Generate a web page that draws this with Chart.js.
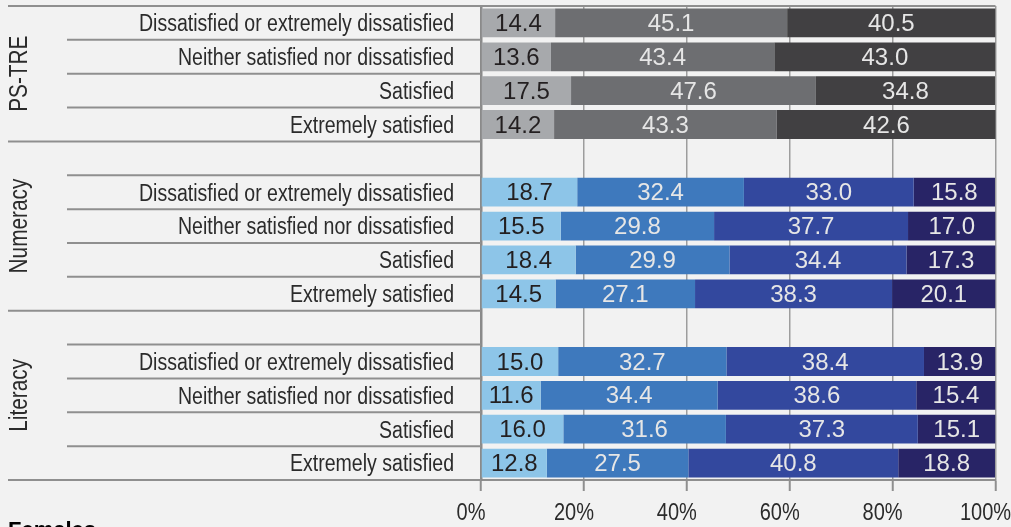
<!DOCTYPE html>
<html>
<head>
<meta charset="utf-8">
<script src="https://cdn.jsdelivr.net/npm/chart.js@4/dist/chart.umd.min.js"></script>
<style>
  html, body { margin: 0; padding: 0; background: #f2f2f2; overflow: hidden; }
  #wrap { position: relative; width: 1011px; height: 527px; }
</style>
</head>
<body>
<div id="wrap"><canvas id="chart"></canvas></div>
<script>
// ---------- DATA ----------
const groups    = ["PS-TRE", "Numeracy", "Literacy"];
const rowLabels = [
  "Dissatisfied or extremely dissatisfied",
  "Neither satisfied nor dissatisfied",
  "Satisfied",
  "Extremely satisfied"
];
const xTicks = [0, 20, 40, 60, 80, 100];

// PS-TRE: three levels
const psLevel1 = [14.4, 13.6, 17.5, 14.2];
const psLevel2 = [45.1, 43.4, 47.6, 43.3];
const psLevel3 = [40.5, 43.0, 34.8, 42.6];

// Numeracy: four levels
const numLevel1 = [18.7, 15.5, 18.4, 14.5];
const numLevel2 = [32.4, 29.8, 29.9, 27.1];
const numLevel3 = [33.0, 37.7, 34.4, 38.3];
const numLevel4 = [15.8, 17.0, 17.3, 20.1];

// Literacy: four levels
const litLevel1 = [15.0, 11.6, 16.0, 12.8];
const litLevel2 = [32.7, 34.4, 31.6, 27.5];
const litLevel3 = [38.4, 38.6, 37.3, 40.8];
const litLevel4 = [13.9, 15.4, 15.1, 18.8];

// ---------- BUILD ROWS ----------
// one blank row in front of every group except the first
const categories = [...rowLabels, "", ...rowLabels, "", ...rowLabels];
const none = [null, null, null, null];
const psRow  = (a) => [...a, null, ...none, null, ...none];
const sktRow = (num, lit) => [...none, null, ...num, null, ...lit];

const FONT = "'Liberation Sans Narrow', 'Liberation Sans', sans-serif";
const TXT       = "#2b2b2b";
const DARK_TXT  = "#231f20";
const LIGHT_TXT = "#e6e6e6";

const datasets = [
  { data: psRow(psLevel1), backgroundColor: "#a7a9ac", txt: DARK_TXT },
  { data: psRow(psLevel2), backgroundColor: "#6d6e71", txt: LIGHT_TXT },
  { data: psRow(psLevel3), backgroundColor: "#414042", txt: LIGHT_TXT },
  { data: sktRow(numLevel1, litLevel1), backgroundColor: "#8dc5e8", txt: DARK_TXT },
  { data: sktRow(numLevel2, litLevel2), backgroundColor: "#3e79bd", txt: LIGHT_TXT },
  { data: sktRow(numLevel3, litLevel3), backgroundColor: "#33489e", txt: LIGHT_TXT },
  { data: sktRow(numLevel4, litLevel4), backgroundColor: "#282466", txt: LIGHT_TXT }
].map(d => ({ ...d, barPercentage: 0.85, categoryPercentage: 1, borderWidth: 0 }));

// condensed text: squeeze horizontally around the anchor point
function condensedText(ctx, text, x, y, sx) {
  ctx.save();
  ctx.translate(x, y);
  ctx.scale(sx, 1);
  ctx.fillText(text, 0, 0);
  ctx.restore();
}

// ---------- PLUGINS ----------
// value labels centred in each segment
const segmentLabels = {
  id: "segmentLabels",
  afterDatasetsDraw(chart) {
    const ctx = chart.ctx;
    ctx.save();
    ctx.font = "24px " + FONT;
    ctx.textAlign = "center";
    ctx.textBaseline = "middle";
    chart.data.datasets.forEach((ds, di) => {
      chart.getDatasetMeta(di).data.forEach((bar, i) => {
        const v = ds.data[i];
        if (v == null) return;
        ctx.fillStyle = ds.txt;
        ctx.fillText(v.toFixed(1), (bar.x + bar.base) / 2, bar.y + 1.5);
      });
    });
    ctx.restore();
  }
};

// axis labels, row/group separators, group titles, plot top border, footer
const frame = {
  id: "frame",
  afterDraw(chart) {
    const ctx = chart.ctx;
    const x = chart.scales.x;
    const y = chart.scales.y;
    const area = chart.chartArea;
    const half = (y.getPixelForValue(1) - y.getPixelForValue(0)) / 2;
    ctx.save();
    ctx.strokeStyle = "#8f8f8f";
    ctx.lineWidth = 2;

    // top border of the plot
    ctx.beginPath();
    ctx.moveTo(area.left, area.top);
    ctx.lineTo(area.right, area.top);
    ctx.stroke();

    const groupStarts = [0, 4, 9];
    const groupEnds   = [4, 9, 14];
    for (let i = 0; i <= categories.length; i++) {
      const py = y.getPixelForValue(i) - half;
      const isGroupEdge = i === 0 || groupEnds.includes(i);
      ctx.beginPath();
      ctx.moveTo(isGroupEdge ? 8 : 67, py);
      ctx.lineTo(area.left, py);
      ctx.stroke();
    }

    ctx.fillStyle = TXT;
    ctx.textBaseline = "middle";

    // row labels
    ctx.font = "23px " + FONT;
    ctx.textAlign = "right";
    categories.forEach((c, i) => {
      if (c) condensedText(ctx, c, area.left - 27, y.getPixelForValue(i) + 2, 0.85);
    });

    // x tick labels
    ctx.textAlign = "center";
    xTicks.forEach(v => condensedText(ctx, v + "%", x.getPixelForValue(v) - 10, 514, 0.87));

    // rotated group titles
    ctx.font = "26px " + FONT;
    groups.forEach((g, gi) => {
      const top = y.getPixelForValue(groupStarts[gi]) - half;
      const bot = y.getPixelForValue(groupEnds[gi] - 1) + half;
      ctx.save();
      ctx.translate(20, (top + bot) / 2);
      ctx.rotate(-Math.PI / 2);
      condensedText(ctx, g, 0, 0, 0.8);
      ctx.restore();
    });

    ctx.font = "bold 22px 'Liberation Sans', sans-serif";
    ctx.fillStyle = "#000";
    ctx.textAlign = "left";
    ctx.textBaseline = "alphabetic";
    ctx.fillText("Females", 8, 537);
    ctx.restore();
  }
};

// ---------- CHART ----------
new Chart(document.getElementById("chart").getContext("2d"), {
  type: "bar",
  data: { labels: categories, datasets: datasets },
  options: {
    indexAxis: "y",
    responsive: true,
    maintainAspectRatio: false,
    animation: false,
    layout: { padding: { top: 6, right: 15.5, left: 0, bottom: 0 } },
    plugins: { legend: { display: false }, tooltip: { enabled: false } },
    scales: {
      x: {
        stacked: true,
        min: 0,
        max: 100,
        afterBuildTicks(scale) { scale.ticks = xTicks.map(v => ({ value: v })); },
        afterFit(scale) { scale.height = 47; scale.paddingLeft = 0; scale.paddingRight = 0; },
        grid: { color: "#9d9d9d", lineWidth: 1.5, tickLength: 11, tickColor: "#8f8f8f", tickWidth: 2 },
        border: { display: true, color: "#8f8f8f", width: 2 },
        ticks: { display: false }
      },
      y: {
        stacked: true,
        afterFit(scale) { scale.width = 481; scale.paddingTop = 0; scale.paddingBottom = 0; },
        grid: { display: false, drawTicks: false },
        border: { display: true, color: "#8a8a8a", width: 2.5 },
        ticks: { display: false }
      }
    }
  },
  plugins: [segmentLabels, frame]
});
</script>
</body>
</html>
